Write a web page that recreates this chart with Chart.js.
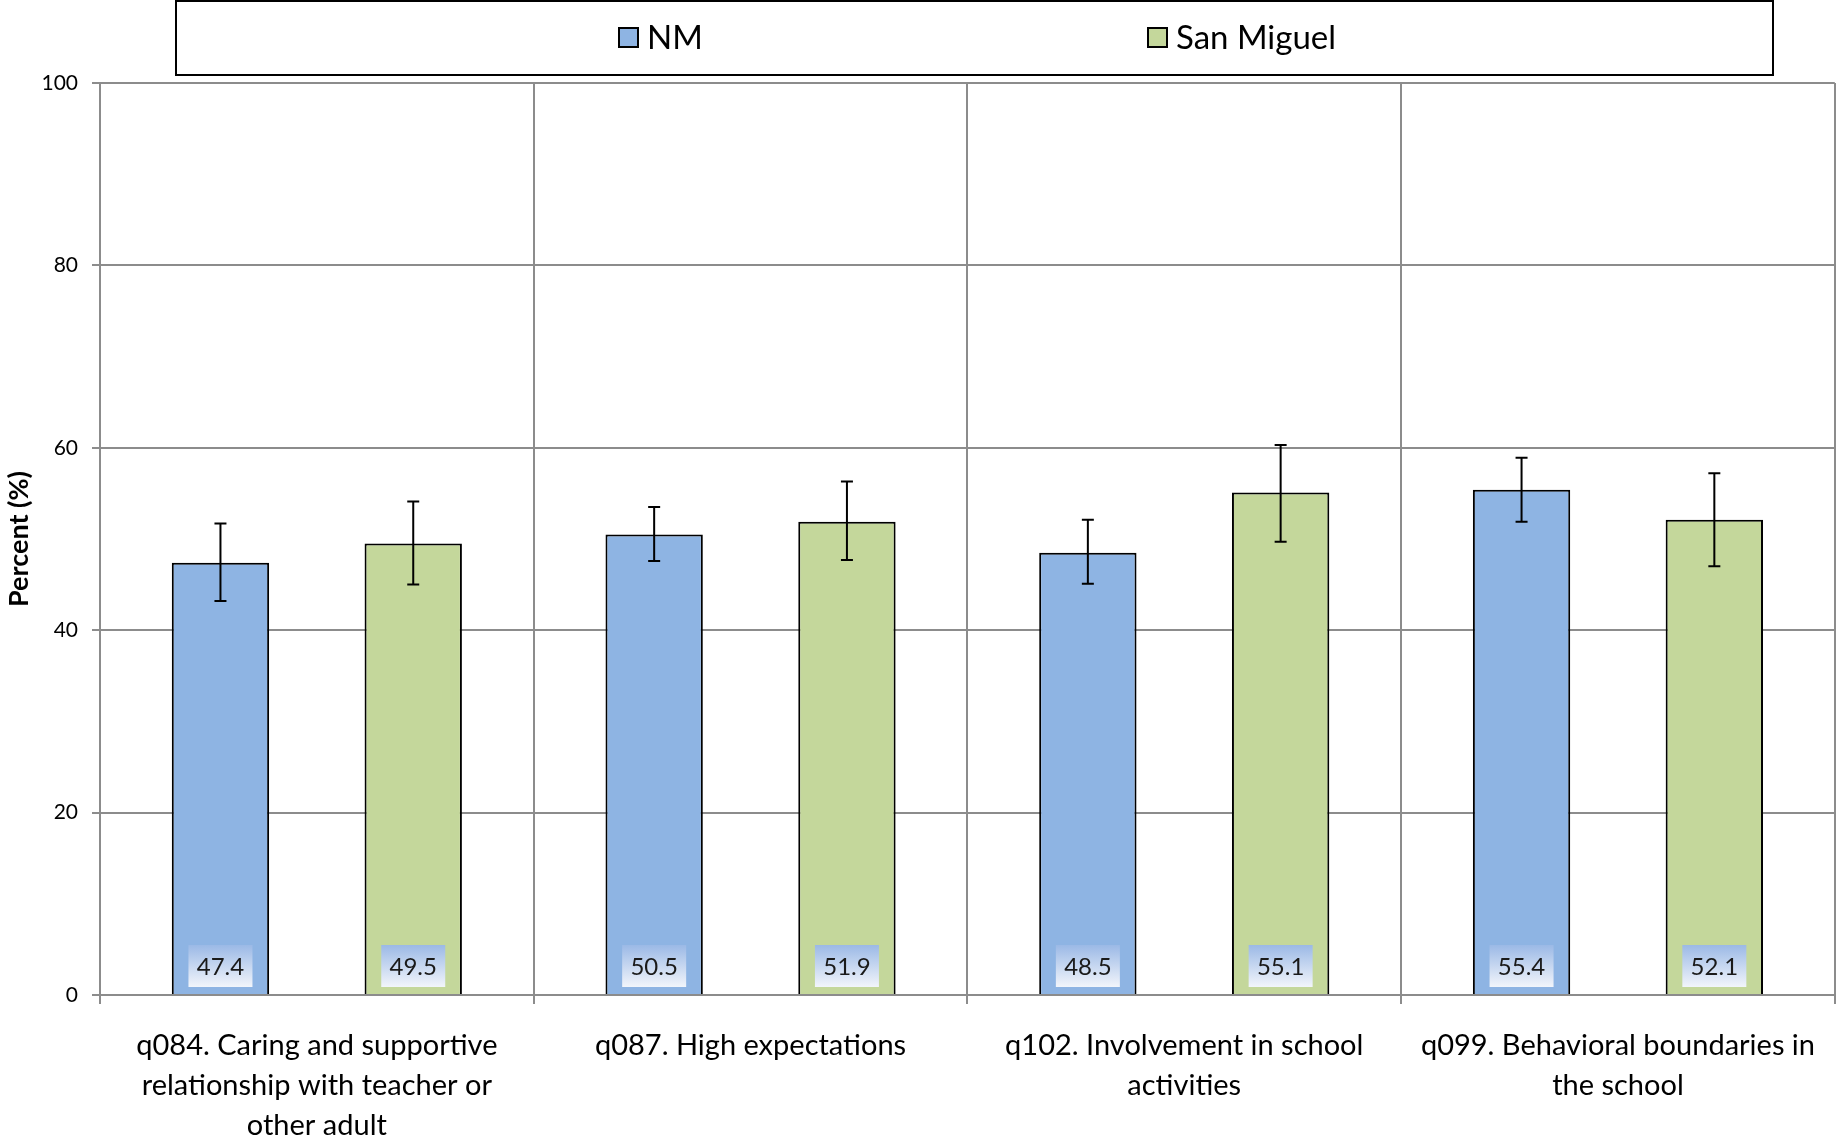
<!DOCTYPE html>
<html>
<head>
<meta charset="utf-8">
<script src="https://cdn.jsdelivr.net/npm/chart.js@4.4.1/dist/chart.umd.min.js"></script>
<style>
  html, body { margin: 0; padding: 0; background: #fff; }
  #wrap { width: 1837px; height: 1139px; }
</style>
</head>
<body>
<div id="wrap"><canvas id="chart"></canvas></div>
<script>
/* School connectedness indicators - NM vs San Miguel */

const categories = [
  ['q084. Caring and supportive', 'relationship with teacher or', 'other adult'],
  ['q087. High expectations'],
  ['q102. Involvement in school', 'activities'],
  ['q099. Behavioral boundaries in', 'the school']
];
const seriesNames = ['NM', 'San Miguel'];
const nmValues = [47.4, 50.5, 48.5, 55.4];
const smValues = [49.5, 51.9, 55.1, 52.1];
const nmLow = [43.2, 47.6, 45.1, 51.9];
const nmHigh = [51.7, 53.5, 52.1, 58.9];
const smLow = [45.0, 47.7, 49.7, 47.0];
const smHigh = [54.1, 56.3, 60.3, 57.2];
const yTicks = [0, 20, 40, 60, 80, 100];

const FONT = 'Lato, "Open Sans", sans-serif';
const colors = ['#8EB4E3', '#C4D79B'];
const errors = [[nmLow, nmHigh], [smLow, smHigh]];

// error bars + value boxes at the base of each bar
const barExtras = {
  id: 'barExtras',
  afterDatasetsDraw(chart) {
    const ctx = chart.ctx;
    const y = chart.scales.y;
    chart.data.datasets.forEach((ds, di) => {
      const meta = chart.getDatasetMeta(di);
      meta.data.forEach((bar, i) => {
        const lo = y.getPixelForValue(errors[di][0][i]);
        const hi = y.getPixelForValue(errors[di][1][i]);
        ctx.save();
        ctx.strokeStyle = '#000';
        ctx.lineWidth = 2;
        ctx.beginPath();
        ctx.moveTo(bar.x, lo); ctx.lineTo(bar.x, hi);
        ctx.moveTo(bar.x - 6, lo); ctx.lineTo(bar.x + 6, lo);
        ctx.moveTo(bar.x - 6, hi); ctx.lineTo(bar.x + 6, hi);
        ctx.stroke();

        // value label box
        const w = 64, h = 42;
        const bx = bar.x - w / 2, by = bar.base - 7 - h;
        const g = ctx.createLinearGradient(0, by, 0, by + h);
        g.addColorStop(0, '#9bb9e6');
        g.addColorStop(1, '#f2f5fb');
        ctx.fillStyle = g;
        ctx.fillRect(bx, by, w, h);
        ctx.fillStyle = '#1a1a1a';
        ctx.font = '24px ' + FONT;
        ctx.textAlign = 'center';
        ctx.textBaseline = 'middle';
        ctx.fillText(ds.data[i].toFixed(1), bar.x, by + h / 2 + 1);
        ctx.restore();
      });
    });
  }
};

// boxed legend at the top
const boxLegend = {
  id: 'boxLegend',
  afterDraw(chart) {
    const ctx = chart.ctx;
    ctx.save();
    ctx.fillStyle = '#fff';
    ctx.fillRect(176, 1, 1597, 74);
    ctx.strokeStyle = '#000';
    ctx.lineWidth = 2;
    ctx.strokeRect(176, 1, 1597, 74);
    const itemX = [619, 1148];
    chart.data.datasets.forEach((ds, i) => {
      const x = itemX[i];
      ctx.fillStyle = ds.backgroundColor;
      ctx.fillRect(x, 28, 19, 19);
      ctx.lineWidth = 2;
      ctx.strokeRect(x, 28, 19, 19);
      ctx.fillStyle = '#000';
      ctx.font = '33px ' + FONT;
      ctx.textAlign = 'left';
      ctx.textBaseline = 'middle';
      ctx.fillText(ds.label, x + 28, 38);
    });
    ctx.restore();
  }
};

new Chart(document.getElementById('chart'), {
  type: 'bar',
  data: {
    labels: categories,
    datasets: [
      { label: seriesNames[0], data: nmValues, backgroundColor: colors[0], borderColor: '#000', borderWidth: 2 },
      { label: seriesNames[1], data: smValues, backgroundColor: colors[1], borderColor: '#000', borderWidth: 2 }
    ]
  },
  options: {
    responsive: true,
    maintainAspectRatio: false,
    animation: false,
    categoryPercentage: 0.889,
    barPercentage: 0.505,
    layout: { padding: { top: 83, right: 0, left: 0, bottom: 0 } },
    plugins: {
      legend: { display: false },
      tooltip: { enabled: false }
    },
    scales: {
      x: {
        grid: { display: true, offset: true, color: '#8c8c8c', lineWidth: 2, tickLength: 9 },
        border: { color: '#8c8c8c', width: 2 },
        ticks: { color: '#000', font: { family: FONT, size: 29, lineHeight: 1.38 }, padding: 22, maxRotation: 0, autoSkip: false },
        afterFit: s => { s.height = 144; }
      },
      y: {
        min: 0, max: 100,
        afterBuildTicks: s => { s.ticks = yTicks.map(v => ({ value: v })); },
        grid: { color: '#8c8c8c', lineWidth: 2, tickLength: 8 },
        border: { color: '#8c8c8c', width: 2 },
        ticks: { color: '#000', font: { family: FONT, size: 21 }, padding: 14 },
        title: { display: true, text: 'Percent (%)', color: '#000', font: { family: FONT, size: 27, weight: 'bold' }, padding: { top: 3, bottom: 0 } },
        afterFit: s => { s.width = 100; }
      }
    }
  },
  plugins: [barExtras, boxLegend]
});
</script>
</body>
</html>
